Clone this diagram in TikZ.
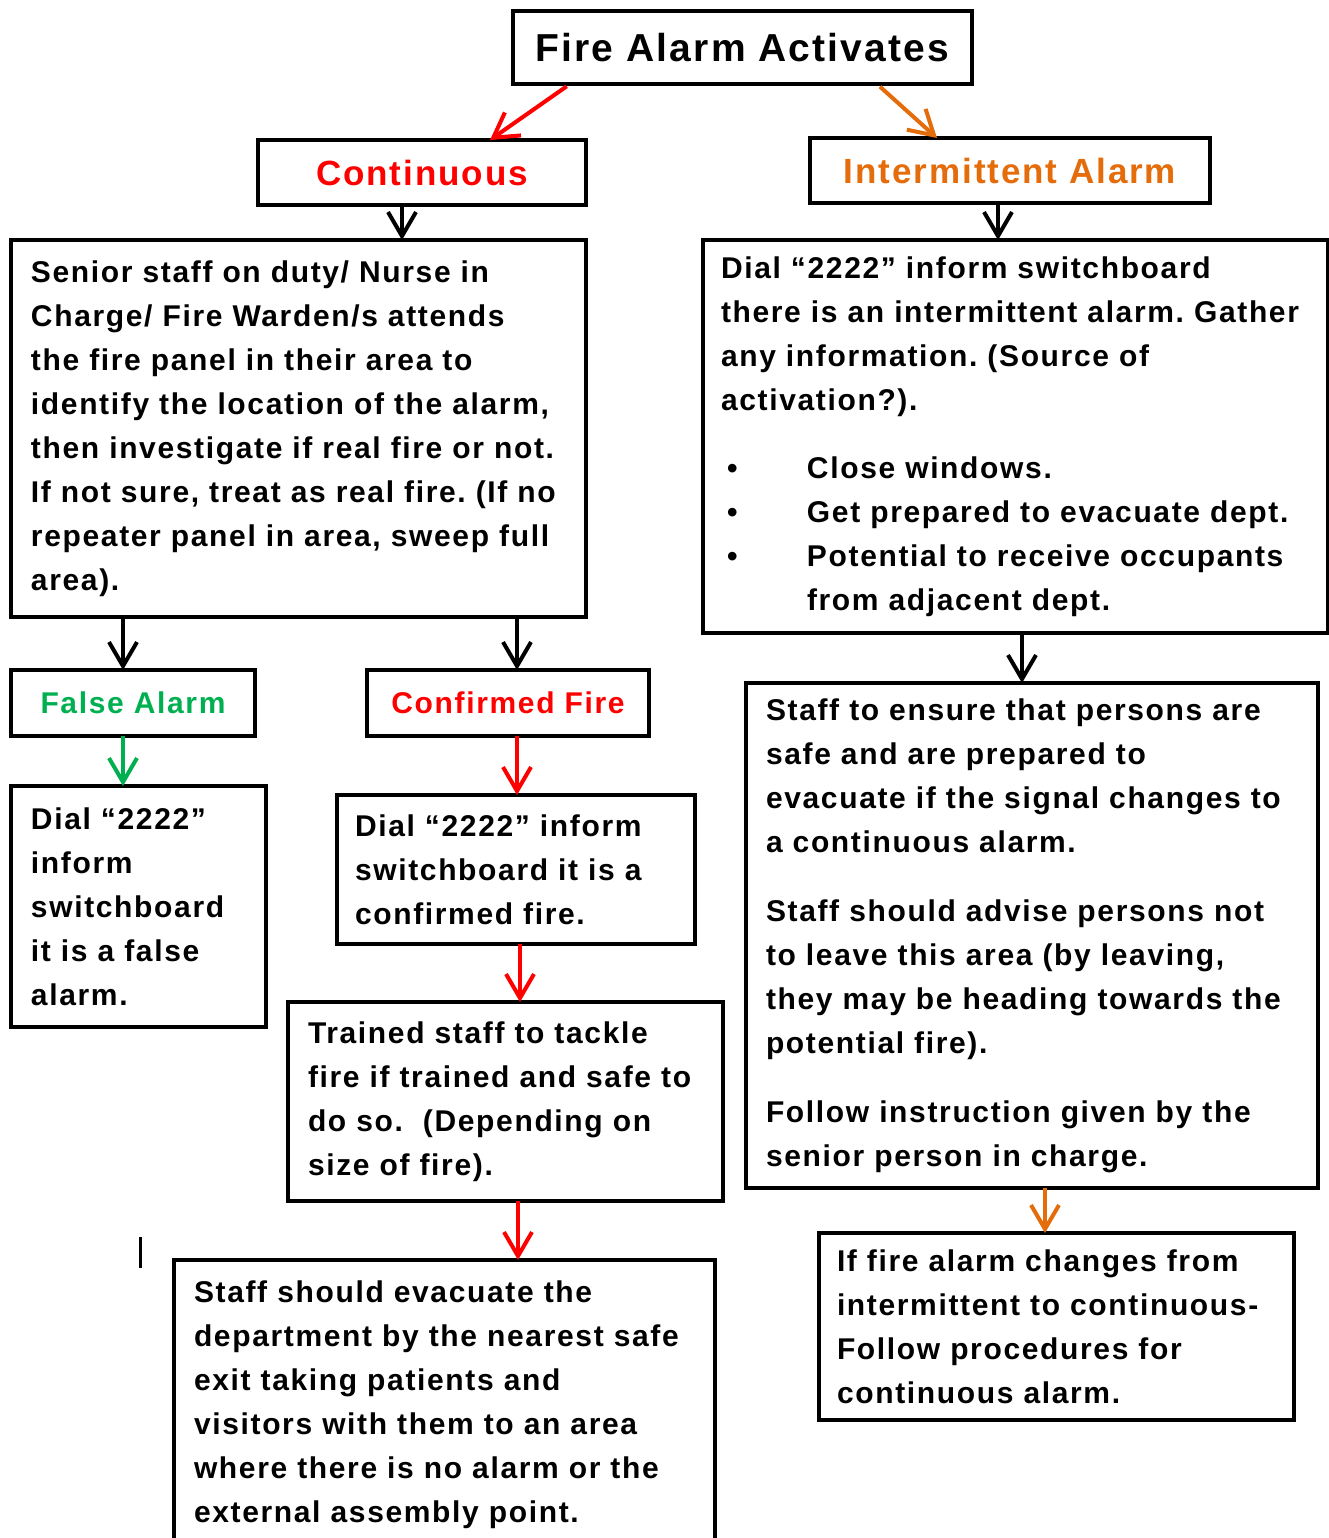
\documentclass[tikz,border=0pt]{standalone}
\usepackage{fontspec}
\setmainfont{Liberation Sans}[LetterSpace=5.5]
\usetikzlibrary{arrows.meta, calc}

\definecolor{alarmred}{RGB}{255,0,0}
\definecolor{alarmorange}{RGB}{228,108,10}
\definecolor{alarmgreen}{RGB}{0,176,80}

\tikzset{
	box/.style={draw, line width=1.75pt, outer sep=0pt, anchor=north west},
	headbox/.style={box, inner sep=0pt, align=center},
	txtbox/.style={box, align=left, inner xsep=10pt, inner ysep=0pt,
	               font=\bfseries\fontsize{15}{22}\selectfont},
	arr/.style={line width=2pt, -{Straight Barb[length=12pt,width=14pt]}}
}

\begin{document}
\frenchspacing
\begin{tikzpicture}[x=0.5pt, y=-0.5pt]
	\useasboundingbox (0,0) rectangle (1329,1538);

	\node[headbox, minimum width=229.5pt, minimum height=36.5pt,
	      font=\bfseries\fontsize{19.5}{22}\selectfont] (title) at (513,11) {Fire Alarm Activates};
	\node[headbox, minimum width=164pt, minimum height=32.5pt, text=alarmred,
	      font=\bfseries\fontsize{17.5}{20}\selectfont] (cont) at (258,140) {Continuous};
	\node[headbox, minimum width=200pt, minimum height=32.5pt, text=alarmorange,
	      font=\bfseries\fontsize{17.5}{20}\selectfont] (inter) at (810,138) {Intermittent Alarm};

	\node[txtbox, text width=267.5pt, minimum width=287.5pt, minimum height=188.5pt] (senior) at (11,240)
	  {Senior staff on duty/ Nurse in\\
	   Charge/ Fire Warden/s attends\\
	   the fire panel in their area to\\
	   identify the location of the alarm,\\
	   then investigate if real fire or not.\\
	   If not sure, treat as real fire. (If no\\
	   repeater panel in area, sweep full\\
	   area).};
	\node[txtbox, inner xsep=9pt, text width=294.5pt, minimum width=312.5pt, minimum height=196.5pt] (dialR) at (703,240)
	  {Dial “2222” inform switchboard\\
	   there is an intermittent alarm. Gather\\
	   any information. (Source of\\
	   activation?).\\[12pt]
	   \hspace*{3pt}\makebox[40pt][l]{•}Close windows.\\
	   \hspace*{3pt}\makebox[40pt][l]{•}Get prepared to evacuate dept.\\
	   \hspace*{3pt}\makebox[40pt][l]{•}Potential to receive occupants\\
	   \hspace*{43pt}from adjacent dept.};

	\node[headbox, minimum width=122pt, minimum height=33pt, text=alarmgreen,
	      font=\bfseries\fontsize{15}{18}\selectfont] (falseA) at (11,670) {False Alarm};
	\node[headbox, minimum width=141pt, minimum height=33pt, text=alarmred,
	      font=\bfseries\fontsize{15}{18}\selectfont] (confA) at (367,670) {Confirmed Fire};

	\node[txtbox, text width=107.5pt, minimum width=127.5pt, minimum height=120.5pt] (falseD) at (11,786)
	  {Dial “2222”\\
	   inform\\
	   switchboard\\
	   it is a false\\
	   alarm.};
	\node[txtbox, inner xsep=9pt, text width=161pt, minimum width=179pt, minimum height=74.5pt] (confD) at (337,795)
	  {Dial “2222” inform\\
	   switchboard it is a\\
	   confirmed fire.};
	\node[txtbox, text width=197.5pt, minimum width=217.5pt, minimum height=99.5pt] (trained) at (288,1002)
	  {Trained staff to tackle\\
	   fire if trained and safe to\\
	   do so.\ \ (Depending on\\
	   size of fire).};
	\node[txtbox, text width=250.5pt, minimum width=270.5pt, minimum height=145pt] (evac) at (174,1260)
	  {Staff should evacuate the\\
	   department by the nearest safe\\
	   exit taking patients and\\
	   visitors with them to an area\\
	   where there is no alarm or the\\
	   external assembly point.};

	\node[txtbox, text width=266pt, minimum width=286pt, minimum height=252.5pt] (ensure) at (746,683)
	  {Staff to ensure that persons are\\
	   safe and are prepared to\\
	   evacuate if the signal changes to\\
	   a continuous alarm.\\[12.5pt]
	   Staff should advise persons not\\
	   to leave this area (by leaving,\\
	   they may be heading towards the\\
	   potential fire).\\[12.5pt]
	   Follow instruction given by the\\
	   senior person in charge.};
	\node[txtbox, inner xsep=9pt, text width=219.5pt, minimum width=237.5pt, minimum height=93.5pt] (iffire) at (819,1233)
	  {If fire alarm changes from\\
	   intermittent to continuous-\\
	   Follow procedures for\\
	   continuous alarm.};

	\draw[arr, alarmred, shorten <=2pt] (title.south -| 570,0) -- (cont.north -| 490,0);
	\draw[arr, alarmorange, shorten <=2pt] (title.south -| 877,0) -- (inter.north -| 937,0);
	\draw[arr] (cont.south -| 402,0) -- (senior.north -| 402,0);
	\draw[arr] (inter.south -| 998,0) -- (dialR.north -| 998,0);
	\draw[arr] (senior.south -| 123,0) -- (falseA.north -| 123,0);
	\draw[arr] (senior.south -| 517,0) -- (confA.north -| 517,0);
	\draw[arr, alarmgreen] (falseA.south -| 123,0) -- (falseD.north -| 123,0);
	\draw[arr, alarmred] (confA.south -| 517,0) -- (confD.north -| 517,0);
	\draw[arr, alarmred] (confD.south -| 520,0) -- (trained.north -| 520,0);
	\draw[arr, alarmred] (trained.south -| 518,0) -- (evac.north -| 518,0);
	\draw[arr] (dialR.south -| 1022,0) -- (ensure.north -| 1022,0);
	\draw[arr, alarmorange] (ensure.south -| 1045,0) -- (iffire.north -| 1045,0);

	\draw[line width=1.5pt] (140,1237) -- (140,1268);
\end{tikzpicture}
\end{document}
